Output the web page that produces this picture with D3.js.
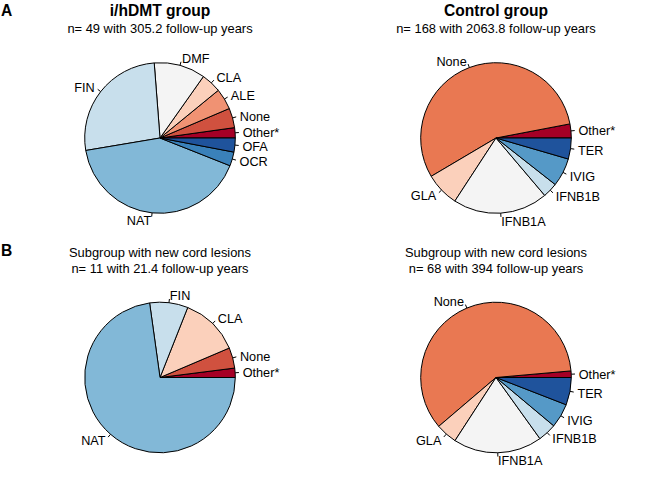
<!DOCTYPE html>
<html>
<head>
<meta charset="utf-8">
<script src="https://cdn.jsdelivr.net/npm/d3@7"></script>
<style>
  body { margin: 0; background: #fff; }
  svg { display: block; font-family: "Liberation Sans", Arial, sans-serif; }
</style>
</head>
<body>
<div id="chart"></div>
<script>
// slice order follows the original: counterclockwise from 3 o'clock
const treatedLabels = ['Other*', 'None', 'ALE', 'CLA', 'DMF', 'FIN', 'NAT', 'OCR', 'OFA'];
const treatedValues = [2.2, 4.2, 4.5, 4.3, 11.0, 26.4, 41.3, 3.0, 3.0];
const treatedColors = ['#a50026', '#d0513f', '#f09273', '#fbd0bb', '#f4f4f4', '#c8dfec', '#82b8d7', '#3a81ba', '#1f539c'];

const controlLabels = ['Other*', 'None', 'GLA', 'IFNB1A', 'IFNB1B', 'IVIG', 'TER'];
const controlValues = [3.0, 55.5, 7.3, 20.4, 3.2, 6.1, 4.5];
const controlColors = ['#a50026', '#e97852', '#fbd0bb', '#f4f4f4', '#c8dfec', '#5599c7', '#1f539c'];

const treatedCordLabels = ['Other*', 'None', 'CLA', 'FIN', 'NAT'];
const treatedCordValues = [2.0, 4.4, 12.6, 8.2, 72.8];
const treatedCordColors = ['#a50026', '#d0513f', '#fbd0bb', '#c8dfec', '#82b8d7'];

const controlCordLabels = ['Other*', 'None', 'GLA', 'IFNB1A', 'IFNB1B', 'IVIG', 'TER'];
const controlCordValues = [1.4, 59.9, 4.6, 19.1, 4.0, 5.2, 5.9];
const controlCordColors = ['#a50026', '#e97852', '#fbd0bb', '#f4f4f4', '#c8dfec', '#5599c7', '#1f539c'];

const width = 672;
const height = 480;
const radius = 75.3;

const svg = d3.select('#chart')
    .append('svg')
    .attr('width', width)
    .attr('height', height);

const panels = [
    { cx: 160, cy: 138, labels: treatedLabels, values: treatedValues, colors: treatedColors,
      title: 'i/hDMT group', bold: true, sub: 'n= 49 with 305.2 follow-up years', ty: 0 },
    { cx: 496, cy: 138, labels: controlLabels, values: controlValues, colors: controlColors,
      title: 'Control group', bold: true, sub: 'n= 168 with 2063.8 follow-up years', ty: 0 },
    { cx: 160, cy: 377.5, labels: treatedCordLabels, values: treatedCordValues, colors: treatedCordColors,
      title: 'Subgroup with new cord lesions', bold: false, sub: 'n= 11 with 21.4 follow-up years', ty: 240 },
    { cx: 496, cy: 377.5, labels: controlCordLabels, values: controlCordValues, colors: controlCordColors,
      title: 'Subgroup with new cord lesions', bold: false, sub: 'n= 68 with 394 follow-up years', ty: 240 },
];

// counterclockwise starting at 3 o'clock, like base R pie()
const pie = d3.pie()
    .sort(null)
    .startAngle(Math.PI / 2)
    .endAngle(Math.PI / 2 - 2 * Math.PI);

const arc = d3.arc().innerRadius(0).outerRadius(radius);

panels.forEach((p) => {
    const rows = p.labels.map((label, i) => ({ label, value: p.values[i], color: p.colors[i] }));
    const g = svg.append('g').attr('transform', `translate(${p.cx},${p.cy})`);

    g.selectAll('path')
        .data(pie.value((d) => d.value)(rows))
        .join('path')
        .attr('d', arc)
        .attr('fill', (d) => d.data.color)
        .attr('stroke', '#000')
        .attr('stroke-width', 1)
        .attr('stroke-linejoin', 'round');

    const labelled = g.selectAll('g.lab')
        .data(pie(rows))
        .join('g')
        .attr('class', 'lab');

    const mid = (d) => (d.startAngle + d.endAngle) / 2;

    labelled.append('line')
        .attr('x1', (d) => Math.sin(mid(d)) * radius)
        .attr('y1', (d) => -Math.cos(mid(d)) * radius)
        .attr('x2', (d) => Math.sin(mid(d)) * radius * 1.05)
        .attr('y2', (d) => -Math.cos(mid(d)) * radius * 1.05)
        .attr('stroke', '#000')
        .attr('stroke-width', 1);

    labelled.append('text')
        .attr('x', (d) => Math.sin(mid(d)) * radius * 1.1)
        .attr('y', (d) => -Math.cos(mid(d)) * radius * 1.1)
        .attr('dy', '0.4em')
        .attr('text-anchor', (d) => Math.sin(mid(d)) < 0 ? 'end' : 'start')
        .attr('font-size', 12.7)
        .attr('fill', '#000')
        .text((d) => d.data.label);

    // headings
    if (p.bold) {
        svg.append('text')
            .attr('x', p.cx).attr('y', p.ty + 16)
            .attr('text-anchor', 'middle')
            .attr('font-size', 15.6)
            .attr('font-weight', 'bold')
            .text(p.title);
        svg.append('text')
            .attr('x', p.cx).attr('y', p.ty + 32.7)
            .attr('text-anchor', 'middle')
            .attr('font-size', 12.9)
            .text(p.sub);
    } else {
        svg.append('text')
            .attr('x', p.cx).attr('y', p.ty + 17.3)
            .attr('text-anchor', 'middle')
            .attr('font-size', 12.9)
            .text(p.title);
        svg.append('text')
            .attr('x', p.cx).attr('y', p.ty + 32.7)
            .attr('text-anchor', 'middle')
            .attr('font-size', 12.9)
            .text(p.sub);
    }
});

svg.append('text').attr('x', 1).attr('y', 16)
    .attr('font-size', 15.6).attr('font-weight', 'bold').text('A');
svg.append('text').attr('x', 1).attr('y', 256)
    .attr('font-size', 15.6).attr('font-weight', 'bold').text('B');
</script>
</body>
</html>
